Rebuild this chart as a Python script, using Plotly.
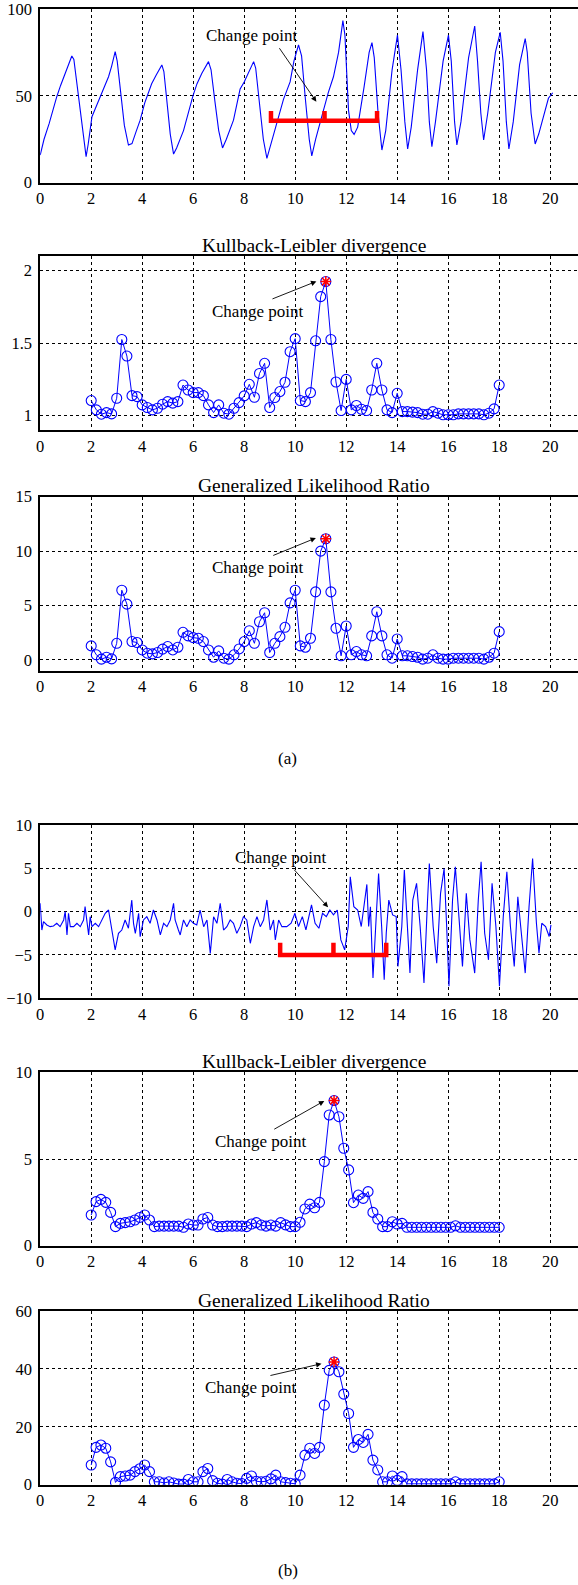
import plotly.graph_objects as go

# ---------------- data ----------------
# (a) raw signal
sig_a_x = [0.00,0.15,0.35,0.5,0.65,0.8,0.98,1.1,1.24,1.32,1.45,1.57,1.7,1.80,1.88,2.03,2.2,2.35,2.5,2.68,2.8,2.94,3.02,3.15,3.3,3.46,3.6,3.75,3.92,4.1,4.37,4.55,4.77,4.85,5.0,5.1,5.23,5.35,5.62,5.8,5.99,6.15,6.34,6.6,6.7,6.85,7.0,7.15,7.3,7.58,7.84,8.0,8.17,8.37,8.45,8.6,8.75,8.89,9.05,9.25,9.54,9.8,9.95,10.13,10.25,10.4,10.55,10.65,10.8,11.11,11.3,11.5,11.7,11.87,11.95,12.09,12.2,12.31,12.45,12.7,12.9,13.01,13.1,13.25,13.40,13.55,13.8,14.01,14.15,14.3,14.41,14.55,14.8,15.01,15.15,15.26,15.36,15.5,15.8,16.01,16.12,16.25,16.34,16.5,16.8,17.04,17.15,17.28,17.39,17.55,17.85,18.04,18.15,18.28,18.38,18.55,18.8,19.02,19.1,19.25,19.41,19.55,19.74,19.93,20.1]
sig_a_y = [15.9,25,34,42,49.5,56,63,67,72.9,71,55,41.8,25,15,22,38,44,49.5,55,61,67,75.4,70,52,33,21.7,22.5,29,36,46,57,62,67.8,64,43,28,16.5,20,30,40,50,57,63,69.7,65,47,30,20,25,36,54,58,63,69.7,66,47,25,14,22,33,48,58,70,79.3,73,48,25,15.4,25,41.8,52,61,75,93.3,85,41.8,30,27.8,32,55,75,80.6,72,40,18.8,30,65,85,65,35,19.4,32,65,87,65,35,20.7,35,70,85,70,35,21.7,35,72,90.2,70,40,24.6,40,75,86.6,70,35,19.4,35,68,83,75,40,22.3,28,38,48.6,51.8]

# (a) detection statistics, windows at t = 2.0 ... 18.0 step 0.2
stat_a_t = [round(2 + 0.2 * k, 3) for k in range(81)]
kl_a = [1.103,1.039,1.009,1.02,1.011,1.119,1.524,1.41,1.137,1.13,1.073,1.055,1.039,1.05,1.078,1.096,1.085,1.096,1.21,1.176,1.158,1.158,1.137,1.073,1.02,1.073,1.016,1.009,1.05,1.089,1.135,1.215,1.126,1.29,1.36,1.055,1.124,1.165,1.229,1.44,1.53,1.103,1.096,1.158,1.515,1.82,1.924,1.524,1.231,1.034,1.249,1.039,1.069,1.043,1.034,1.176,1.36,1.176,1.039,1.02,1.153,1.027,1.027,1.023,1.02,1.009,1.009,1.027,1.016,1.005,1.005,1.005,1.011,1.011,1.011,1.011,1.011,1.005,1.016,1.046,1.21]
glr_a = [1.28,0.46,0.06,0.24,0.09,1.52,6.4,5.12,1.68,1.59,0.91,0.61,0.55,0.67,0.98,1.22,0.91,1.16,2.53,2.2,2.04,1.98,1.68,0.91,0.24,0.82,0.15,0.06,0.46,1.0,1.68,2.68,1.52,3.5,4.33,0.67,1.52,2.13,2.99,5.24,6.4,1.28,1.16,1.98,6.25,10.0,11.13,6.25,2.9,0.37,3.11,0.46,0.76,0.46,0.37,2.2,4.42,2.2,0.46,0.15,1.92,0.37,0.37,0.3,0.24,0.06,0.15,0.46,0.15,0.06,0.06,0.15,0.15,0.15,0.15,0.15,0.15,0.06,0.24,0.61,2.59]

# (b) raw signal
sig_b_x = [0.00,0.065,0.13,0.26,0.39,0.52,0.65,0.78,0.92,0.98,1.05,1.11,1.18,1.31,1.44,1.57,1.70,1.76,1.90,1.96,2.03,2.16,2.29,2.42,2.55,2.68,2.81,2.94,3.07,3.20,3.33,3.46,3.59,3.66,3.73,3.86,3.92,4.05,4.18,4.31,4.44,4.58,4.71,4.84,4.97,5.10,5.23,5.29,5.42,5.49,5.62,5.75,5.88,6.01,6.14,6.27,6.41,6.54,6.67,6.80,6.93,7.06,7.19,7.32,7.45,7.58,7.71,7.84,7.97,8.10,8.24,8.37,8.50,8.63,8.76,8.89,9.02,9.15,9.22,9.35,9.48,9.67,9.84,9.99,10.13,10.28,10.42,10.64,10.78,10.93,11.07,11.22,11.36,11.50,11.65,11.79,11.94,12.08,12.16,12.30,12.45,12.59,12.81,12.88,12.95,13.05,13.17,13.27,13.39,13.49,13.57,13.67,13.82,13.96,14.03,14.18,14.28,14.40,14.50,14.61,14.76,14.90,15.05,15.19,15.26,15.41,15.55,15.70,15.84,15.94,16.03,16.17,16.28,16.42,16.56,16.71,16.85,17.04,17.18,17.29,17.43,17.58,17.72,17.87,18.01,18.16,18.30,18.44,18.59,18.73,18.88,19.02,19.17,19.31,19.46,19.56,19.67,19.82,19.96,20.03]
sig_b_y = [0.96,-2.12,-1.15,-1.54,-1.73,-1.65,-1.35,-1.73,-0.96,0,-2.69,-0.19,-1.73,-1.73,-1.35,-1.73,-0.96,0.58,-2.69,-0.58,-1.73,-1.35,-1.73,-0.96,-0.19,0.19,-2.12,-4.42,-2.5,-2.12,-0.96,-1.92,1.35,-1.35,-2.5,-0.19,-2.88,-0.96,-0.58,-1.35,0.19,-0.96,-2.69,-1.35,-1.73,-0.96,0.96,-0.96,-2.12,-2.69,-0.96,-1.73,-0.96,-1.35,-1.54,0.19,-1.73,-0.96,-4.81,-0.58,-1.35,0.96,-2.12,-1.73,-0.96,-1.35,-2.5,-1.73,-0.58,-0.96,-3.65,-1.73,-0.58,-1.73,-0.96,1.35,-2.12,-0.96,-3.27,-0.96,-1.73,-1.73,-1.34,-0.19,-1.72,-0.57,-2.11,0.77,-1.34,-1.92,-0.19,-0.57,0.19,-0.38,0.19,-3.26,-4.41,-1.72,4.02,0.57,0.19,-1.72,3.14,-1.72,0.57,-7.66,-0.96,4.41,-1.72,-7.85,-2.49,1.34,-0.38,-0.57,-6.32,-1.72,4.79,-2.49,-7.09,1.34,3.26,-1.72,-8.24,1.34,5.56,-1.72,-5.94,2.11,4.98,-1.72,-8.62,1.34,5.17,-0.57,-6.32,2.11,-3.26,-7.09,1.34,5.75,-2.49,-5.56,3.26,-1.72,-8.62,-0.57,4.60,-1.72,-6.32,1.72,-3.26,-7.09,0.57,6.13,-1.34,-4.79,-1.34,-1.72,-2.87,-1.53]

# (b) detection statistics, 85 windows spread evenly over t = 2 ... 18
stat_b_t = [round(2 + 16 * k / 84, 4) for k in range(85)]
kl_b = [1.77,2.54,2.67,2.5,1.92,1.1,1.29,1.33,1.38,1.48,1.63,1.77,1.48,1.1,1.13,1.13,1.13,1.13,1.13,1.06,
        1.25,1.19,1.19,1.54,1.63,1.19,1.1,1.1,1.13,1.13,1.13,1.13,1.1,1.25,1.33,1.19,1.13,1.19,1.13,1.33,
        1.2,1.1,1.1,1.35,2.12,2.4,2.19,2.5,4.85,7.54,8.37,7.44,5.62,4.37,2.48,2.92,2.73,3.12,1.92,1.54,
        1.1,1.1,1.38,1.25,1.29,1.06,1.06,1.06,1.06,1.06,1.06,1.06,1.06,1.06,1.06,1.15,1.06,1.06,1.06,1.06,
        1.06,1.06,1.06,1.06,1.06]
glr_b = [6.8,12.9,13.7,12.6,7.9,0.8,2.8,3.0,3.3,4.5,5.5,6.8,4.5,1.0,1.0,0.6,1.0,0.6,0.2,0.2,
         1.8,1.0,1.0,4.5,5.6,1.4,0.5,0.2,1.8,1.0,0.5,0.4,2.2,3.0,1.2,1.0,1.2,2.0,3.3,1.0,
         0.7,0.5,0.3,3.3,10.2,12.6,10.8,12.9,27.5,39.5,42.4,39.0,31.3,24.6,12.9,15.6,14.6,17.4,8.5,5.1,
         1.0,1.0,3.0,1.5,2.8,0.3,0.3,0.3,0.3,0.3,0.3,0.3,0.3,0.3,0.3,1.0,0.3,0.3,0.3,0.3,
         0.3,0.3,0.3,0.3,1.0]

# analysis windows drawn as red brackets: [start, change point, end]
win_a = [9.05, 11.15, 13.21]
win_b = [9.41, 11.5, 13.57]

titles = ["", "Kullback-Leibler divergence", "Generalized Likelihood Ratio",
          "", "Kullback-Leibler divergence", "Generalized Likelihood Ratio"]

# ---------------- figure ----------------
W, H = 578, 1585
FONT = "Liberation Serif"
BLUE = "#0000ff"
RED = "#ff0000"

# panel pixel boxes (top, bottom) and y ranges
panels = [
    (9.0, 182.7, [0, 100], 50),
    (256.0, 430.0, [0.9, 2.1], 0.5),
    (496.7, 670.7, [-1, 15], 5),
    (825.0, 998.3, [-10, 10], 5),
    (1072.3, 1245.7, [0, 10], 5),
    (1311.0, 1484.7, [0, 60], 20),
]
x_left = 40.2
x_unit = 25.5
x_max = (W - x_left) / x_unit

fig = go.Figure()
layout = dict(width=W, height=H, margin=dict(l=0, r=0, t=0, b=0, autoexpand=False),
              paper_bgcolor="white", plot_bgcolor="white", showlegend=False,
              font=dict(family=FONT, size=16, color="black"))

tick_font = dict(family=FONT, size=16.5, color="black")
for i, (top, bot, yr, dy) in enumerate(panels):
    n = "" if i == 0 else str(i + 1)
    layout["xaxis" + n] = dict(
        domain=[x_left / W, 1.0], range=[0, x_max], anchor="y" + n,
        tick0=0, dtick=2, showgrid=True, gridcolor="black", gridwidth=0.8,
        griddash="3px,3px", zeroline=False, showline=True, linecolor="black",
        linewidth=1.6, mirror=True, ticks="", tickfont=tick_font,
        ticklabeloverflow="allow")
    layout["yaxis" + n] = dict(
        domain=[1 - bot / H, 1 - top / H], range=yr, anchor="x" + n,
        tick0=0, dtick=dy, showgrid=True, gridcolor="black", gridwidth=0.8,
        griddash="3px,3px", zeroline=False, showline=True, linecolor="black",
        linewidth=1.6, mirror=False, ticks="", tickfont=tick_font, ticklabelstandoff=3,
        ticklabeloverflow="allow")

def ax(i):
    n = "" if i == 0 else str(i + 1)
    return "x" + n, "y" + n

# raw signals
for i, (xs, ys) in [(0, (sig_a_x, sig_a_y)), (3, (sig_b_x, sig_b_y))]:
    xa, ya = ax(i)
    fig.add_trace(go.Scatter(x=xs, y=ys, mode="lines", line=dict(color=BLUE, width=1.1),
                             xaxis=xa, yaxis=ya))

# brackets
def bracket(win, ybar, ytop):
    s, c, e = win
    return [s, s, e, e, None, c, c], [ytop, ybar, ybar, ytop, None, ybar, ytop]

for i, win, ybar, ytop in [(0, win_a, 35.7, 41.3), (3, win_b, -5.0, -3.6)]:
    xa, ya = ax(i)
    bx, by = bracket(win, ybar, ytop)
    fig.add_trace(go.Scatter(x=bx, y=by, mode="lines", line=dict(color=RED, width=4.5),
                             xaxis=xa, yaxis=ya))

# statistics
for i, t, v in [(1, stat_a_t, kl_a), (2, stat_a_t, glr_a),
                (4, stat_b_t, kl_b), (5, stat_b_t, glr_b)]:
    xa, ya = ax(i)
    fig.add_trace(go.Scatter(x=t, y=v, mode="lines+markers",
                             line=dict(color=BLUE, width=1),
                             marker=dict(symbol="circle-open", size=10, color=BLUE,
                                         line=dict(width=1.1, color=BLUE)),
                             xaxis=xa, yaxis=ya))
    k = v.index(max(v))
    fig.add_trace(go.Scatter(x=[t[k]], y=[v[k]], mode="markers",
                             marker=dict(symbol="asterisk-open", size=9, color=RED,
                                         line=dict(width=1.5, color=RED)),
                             xaxis=xa, yaxis=ya))

annotations = []
title_y = {1: 245.0, 2: 485.0, 4: 1061.7, 5: 1300.0}
for i, yy in title_y.items():
    annotations.append(dict(xref="paper", yref="paper", x=314 / W, y=1 - yy / H,
                            text=titles[i], showarrow=False, xanchor="center", yanchor="middle",
                            font=dict(family=FONT, size=19.5, color="black")))

# change point labels and arrows: (panel, text x, text y, tail x, tail y, head x, head y)
cps = [
    (0, 8.3, 85, 9.34, 78.3, 10.83, 46.6),
    (1, 8.53, 1.72, 9.05, 1.8, 10.83, 1.925),
    (2, 8.53, 8.48, 9.08, 9.54, 10.81, 11.2),
    (3, 9.41, 6.3, 9.91, 5.0, 11.29, 0.5),
    (4, 8.64, 6.0, 9.12, 6.67, 11.14, 8.35),
    (5, 8.23, 33.6, 8.97, 37.6, 11.03, 41.8),
]
for i, tx, ty, x0, y0, x1, y1 in cps:
    xa, ya = ax(i)
    annotations.append(dict(xref=xa, yref=ya, x=tx, y=ty, text="Change point",
                            showarrow=False, xanchor="center", yanchor="middle",
                            font=dict(family=FONT, size=17, color="black")))
    annotations.append(dict(xref=xa, yref=ya, x=x1, y=y1, ax=x0, ay=y0,
                            axref=xa, ayref=ya, text="", showarrow=True,
                            arrowhead=2, arrowsize=1.2, arrowwidth=0.9, arrowcolor="black"))

for txt, yy in [("(a)", 758.3), ("(b)", 1570.5)]:
    annotations.append(dict(xref="paper", yref="paper", x=287.5 / W, y=1 - yy / H,
                            text=txt, showarrow=False, xanchor="center", yanchor="middle",
                            borderpad=0, font=dict(family=FONT, size=17, color="black")))

layout["annotations"] = annotations
fig.update_layout(**layout)
fig.write_html("out.html",
               config={"displayModeBar": False},
               post_script="document.body.style.margin='0px';document.body.style.padding='0px';"
                           "document.documentElement.style.overflow='hidden';")
